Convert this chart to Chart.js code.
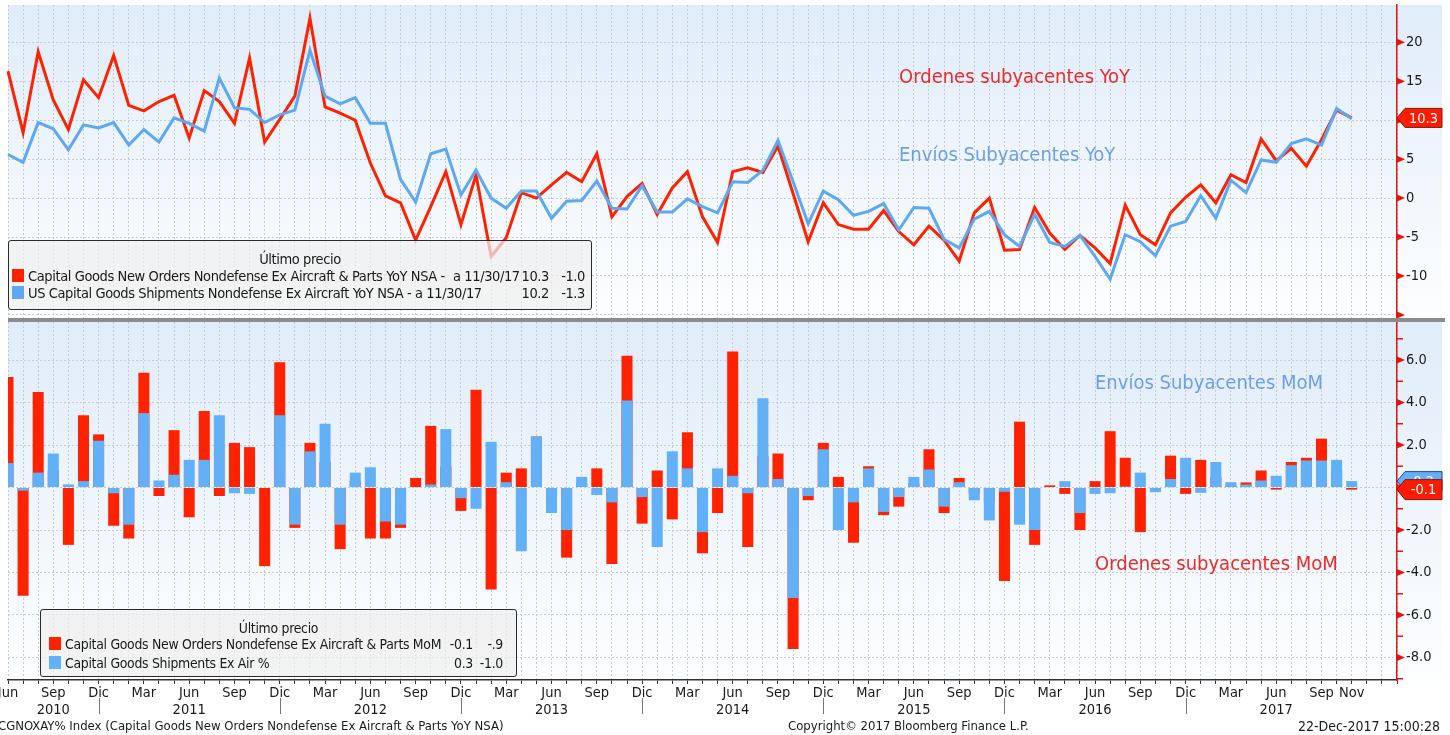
<!DOCTYPE html>
<html>
<head>
<meta charset="utf-8">
<script src="https://cdn.jsdelivr.net/npm/chart.js@4.4.1/dist/chart.umd.min.js"></script>
<style>
    body { margin: 0; background: #fff; width: 1450px; height: 735px; overflow: hidden; position: relative;
           font-family: "DejaVu Sans Condensed", "Liberation Sans Narrow", sans-serif; color: #1a1a1a; }
    #topChart { position: absolute; left: 0; top: 0; }
    #botChart { position: absolute; left: 0; top: 320px; }
    .sep { position: absolute; left: 8px; top: 318px; width: 1437px; height: 4px; background: #8c8c8c; }
    .note { position: absolute; font-size: 20px; white-space: nowrap; line-height: 24px; }
    .lg { position: absolute; box-sizing: border-box; background: rgba(238, 238, 238, 0.72);
          border: 1px solid #2a2a2a; border-radius: 3px; font-size: 14.5px; letter-spacing: -0.4px; }
    .lg div, .lg span { position: absolute; white-space: nowrap; line-height: 18px; }
    .lg .ttl { left: 0; right: 0; text-align: center; }
    .lg .sq { width: 12px; height: 13px; top: 2px; }
    .lg .num { width: 40px; text-align: right; }
    .foot { position: absolute; top: 718px; font-size: 13px; white-space: nowrap; line-height: 16px; }
</style>
</head>
<body>
<canvas id="topChart" width="1450" height="320"></canvas>
<canvas id="botChart" width="1450" height="400"></canvas>
<div class="sep"></div>

<div class="note" style="left:899px;top:64px;color:#ec2b2b">Ordenes subyacentes YoY</div>
<div class="note" style="left:899px;top:142px;color:#6d9fe4">Envíos Subyacentes YoY</div>
<div class="note" style="left:1095px;top:370px;color:#6d9fe4">Envíos Subyacentes MoM</div>
<div class="note" style="left:1095px;top:551px;color:#ec2b2b">Ordenes subyacentes MoM</div>

<div class="lg" style="left:8px;top:240px;width:584px;height:70px">
    <div class="ttl" style="top:9px">Último precio</div>
    <div style="top:26px;left:0;right:0;height:18px">
        <span class="sq" style="left:3px;background:#ff2200"></span>
        <span style="left:19px">Capital Goods New Orders Nondefense Ex Aircraft &amp; Parts YoY NSA -</span>
        <span style="left:444px">a 11/30/17</span>
        <span class="num" style="left:500px">10.3</span>
        <span class="num" style="left:536px">-1.0</span>
    </div>
    <div style="top:43px;left:0;right:0;height:18px">
        <span class="sq" style="left:3px;background:#5ea8f2"></span>
        <span style="left:19px">US Capital Goods Shipments Nondefense Ex Aircraft YoY NSA -</span>
        <span style="left:406px">a 11/30/17</span>
        <span class="num" style="left:500px">10.2</span>
        <span class="num" style="left:536px">-1.3</span>
    </div>
</div>

<div class="lg" style="left:40px;top:609px;width:477px;height:68px;font-size:13.9px;letter-spacing:-0.3px">
    <div class="ttl" style="top:9px">Último precio</div>
    <div style="top:25px;left:0;right:0;height:18px">
        <span class="sq" style="left:8px;background:#ff2200"></span>
        <span style="left:24px">Capital Goods New Orders Nondefense Ex Aircraft &amp; Parts MoM</span>
        <span class="num" style="left:392px">-0.1</span>
        <span class="num" style="left:422px">-.9</span>
    </div>
    <div style="top:44px;left:0;right:0;height:18px">
        <span class="sq" style="left:8px;background:#62b0f8"></span>
        <span style="left:24px">Capital Goods Shipments Ex Air %</span>
        <span class="num" style="left:392px">0.3</span>
        <span class="num" style="left:422px">-1.0</span>
    </div>
</div>

<div class="foot" style="left:-2px">CGNOXAY% Index (Capital Goods New Orders Nondefense Ex Aircraft &amp; Parts YoY NSA)</div>
<div class="foot" style="left:788px">Copyright© 2017 Bloomberg Finance L.P.</div>
<div class="foot" style="right:10px;font-size:14px">22-Dec-2017 15:00:28</div>

<script>
// Datos mensuales: Jun 2010 - Nov 2017 (más 3 meses vacíos al final del eje)
const monthNames = ['Ene', 'Feb', 'Mar', 'Abr', 'May', 'Jun', 'Jul', 'Ago', 'Sep', 'Oct', 'Nov', 'Dic'];
const categories = [];
for (let i = 0; i < 93; i++) {
    categories.push(monthNames[(5 + i) % 12] + ' ' + (2010 + Math.floor((5 + i) / 12)));
}

const quarterMonths = ['Mar', 'Jun', 'Sep', 'Dic'];
const lastMonthLabel = 'Nov 2017';
const yearTicks = [
    ['Sep 2010', '2010'], ['Jun 2011', '2011'], ['Jun 2012', '2012'], ['Jun 2013', '2013'],
    ['Jun 2014', '2014'], ['Jun 2015', '2015'], ['Jun 2016', '2016'], ['Jun 2017', '2017']
];

// YoY (panel superior)
const ordersYoY = [
    16.3, 8.4, 18.8, 12.6, 8.8, 15.2, 12.9, 18.3, 11.9, 11.2,
    12.4, 13.2, 7.7, 13.8, 12.4, 9.6, 18.0, 7.2, 10.1, 13.1,
    23.1, 11.7, 10.9, 10.0, 4.5, 0.3, -0.6, -5.4, -1.1, 3.4,
    -3.4, 3.0, -7.5, -5.1, 0.7, 0.0, 1.7, 3.3, 2.1, 5.7,
    -2.4, 0.2, 1.9, -2.1, 1.3, 3.4, -2.4, -5.7, 3.4, 3.9,
    3.3, 6.7, 0.6, -5.6, -0.6, -3.4, -4.0, -4.0, -1.6, -4.3,
    -6.0, -3.6, -5.4, -8.1, -1.9, 0.0, -6.7, -6.6, -1.2, -4.5,
    -6.6, -4.8, -6.4, -8.4, -0.9, -4.7, -6.0, -1.9, 0.1, 1.7,
    -0.6, 3.0, 2.0, 7.6, 4.8, 6.4, 4.1, 7.5, 11.3, 10.3
];
const shipmentsYoY = [
    5.6, 4.6, 9.7, 8.9, 6.2, 9.4, 9.0, 9.7, 6.8, 8.8,
    7.2, 10.3, 9.6, 8.6, 15.4, 11.6, 11.4, 9.7, 10.7, 11.3,
    19.0, 13.1, 12.1, 12.9, 9.6, 9.6, 2.4, -0.5, 5.7, 6.3,
    0.4, 3.6, 0.0, -1.3, 0.9, 0.9, -2.6, -0.4, -0.3, 2.2,
    -1.3, -1.4, 1.6, -1.8, -1.8, -0.1, -1.1, -1.9, 2.1, 2.0,
    3.6, 7.4, 2.1, -3.3, 0.9, -0.2, -2.2, -1.7, -0.7, -4.1,
    -1.2, -1.3, -5.3, -6.4, -2.7, -1.7, -4.7, -6.2, -2.1, -5.7,
    -6.2, -4.8, -7.5, -10.4, -4.7, -5.6, -7.4, -3.6, -3.0, 0.3,
    -2.6, 2.3, 0.7, 4.9, 4.6, 7.0, 7.6, 6.8, 11.5, 10.2
];

// MoM (panel inferior)
const ordersMoM = [
    5.2, -5.1, 4.5, 0.8, -2.7, 3.4, 2.5, -1.8, -2.4, 5.4,
    -0.4, 2.7, -1.4, 3.6, -0.4, 2.1, 1.9, -3.7, 5.9, -1.9,
    2.1, 1.2, -2.9, 0.3, -2.4, -2.4, -1.9, 0.45, 2.9, 1.0,
    -1.1, 4.6, -4.8, 0.7, 0.9, 2.4, -0.5, -3.3, 0.2, 0.9,
    -3.6, 6.2, -1.7, 0.8, -1.5, 2.6, -3.1, -1.2, 6.4, -2.8,
    1.5, 1.6, -7.6, -0.6, 2.1, 0.5, -2.6, 1.0, -1.3, -0.9,
    0.2, 1.8, -1.2, 0.45, -0.3, -0.7, -4.4, 3.1, -2.7, 0.1,
    -0.3, -2.0, 0.3, 2.65, 1.4, -2.1, -0.1, 1.5, -0.3, 1.3,
    0.5, 0.1, 0.24, 0.8, -0.1, 1.2, 1.4, 2.3, 0.8, -0.1
];
const shipmentsMoM = [
    1.15, -0.15, 0.7, 1.6, 0.15, 0.3, 2.2, -0.27, -1.75, 3.5,
    0.33, 0.6, 1.3, 1.3, 3.4, -0.27, -0.3, 0.0, 3.4, -1.75,
    1.7, 3.0, -1.75, 0.7, 0.95, -1.6, -1.75, 0.0, 0.14, 2.75,
    -0.5, -1.0, 2.15, 0.25, -3.0, 2.4, -1.2, -2.0, 0.5, -0.35,
    -0.7, 4.1, -0.45, -2.8, 1.7, 0.9, -2.1, 0.9, 0.55, -0.27,
    4.2, 0.4, -5.2, -0.4, 1.8, -2.0, -0.7, 0.9, -1.15, -0.45,
    0.5, 0.85, -0.9, 0.25, -0.6, -1.55, -0.2, -1.75, -2.0, 0.0,
    0.3, -1.2, -0.3, -0.27, 0.05, 0.7, -0.22, 0.4, 1.4, -0.25,
    1.2, 0.25, 0.14, 0.33, 0.55, 1.05, 1.27, 1.27, 1.3, 0.3
];

const RED = '#ff2200';
const BLUE_LINE = '#5ea8f2';
const BLUE_BAR = '#62b0f8';
const GRID = '#c6ccd3';
const AXIS_RED = '#e8140a';

Chart.defaults.font.family = '"DejaVu Sans Condensed", "Liberation Sans Narrow", sans-serif';
Chart.defaults.font.size = 14.5;
Chart.defaults.color = '#1a1a1a';

function tickLabel(index) {
    const cat = categories[index];
    const m = cat.split(' ')[0];
    let top = '';
    if (index < ordersYoY.length && (quarterMonths.includes(m) || cat === lastMonthLabel)) top = m;
    const yr = yearTicks.find(function(p) { return p[0] === cat; });
    return yr ? [top, yr[1]] : top;
}

function drawFlag(ctx, x, y, w, h, fill, stroke, text) {
    ctx.save();
    ctx.beginPath();
    ctx.moveTo(x, y);
    ctx.lineTo(x + 8, y - h / 2);
    ctx.lineTo(x + w, y - h / 2);
    ctx.lineTo(x + w, y + h / 2);
    ctx.lineTo(x + 8, y + h / 2);
    ctx.closePath();
    ctx.fillStyle = fill;
    ctx.fill();
    ctx.lineWidth = 1;
    ctx.strokeStyle = stroke;
    ctx.stroke();
    ctx.fillStyle = '#fff';
    ctx.font = '14.5px "DejaVu Sans Condensed", sans-serif';
    ctx.textAlign = 'center';
    ctx.textBaseline = 'middle';
    ctx.fillText(text, x + 4 + w / 2, y + 1);
    ctx.restore();
}

// Fondo degradado, marcas del eje derecho y banderas de último valor
const panelPlugin = {
    id: 'panel',
    beforeDraw: function(chart) {
        const a = chart.chartArea;
        const ctx = chart.ctx;
        const g = ctx.createLinearGradient(0, a.top, 0, a.bottom);
        g.addColorStop(0, '#e0ecf9');
        g.addColorStop(1, '#fdfeff');
        ctx.save();
        ctx.fillStyle = g;
        ctx.fillRect(a.left, a.top, a.right - a.left + 45, a.bottom - a.top);
        ctx.restore();
    },
    afterDraw: function(chart, args, opts) {
        const ctx = chart.ctx;
        const y = chart.scales.y;
        const x0 = y.left;
        ctx.save();
        ctx.fillStyle = AXIS_RED;
        ctx.strokeStyle = AXIS_RED;
        ctx.lineWidth = 1.5;
        y.ticks.forEach(function(t) {
            const py = y.getPixelForValue(t.value);
            if (t.value % opts.major === 0) {
                ctx.beginPath();
                ctx.moveTo(x0, py - 3.5);
                ctx.lineTo(x0 + 8, py);
                ctx.lineTo(x0, py + 3.5);
                ctx.closePath();
                ctx.fill();
            } else {
                ctx.beginPath();
                ctx.moveTo(x0, py);
                ctx.lineTo(x0 + 6, py);
                ctx.stroke();
            }
        });
        ctx.restore();
        opts.flags.forEach(function(f) {
            drawFlag(ctx, x0, y.getPixelForValue(f.value), 45, f.h, f.fill, f.stroke, f.text);
        });
        if (opts.separators) {
            const xs = chart.scales.x;
            ctx.save();
            ctx.strokeStyle = '#777';
            ctx.lineWidth = 1;
            categories.forEach(function(c, i) {
                if (c.indexOf('Dic') === 0 && i < ordersYoY.length) {
                    const px = Math.round(xs.getPixelForValue(i)) + 0.5;
                    ctx.beginPath();
                    ctx.moveTo(px, xs.top + 18);
                    ctx.lineTo(px, xs.top + 34);
                    ctx.stroke();
                }
            });
            ctx.restore();
        }
    }
};

function yAxis(min, max, step, major, labelMin, fmt) {
    return {
        position: 'right',
        min: min,
        max: max,
        afterFit: function(s) { s.width = 53; s.paddingTop = 0; s.paddingBottom = 0; },
        ticks: {
            stepSize: step,
            includeBounds: false,
            padding: 9,
            color: '#1a1a1a',
            callback: function(v) { return v % major === 0 && v >= labelMin ? fmt(v) : ''; }
        },
        grid: {
            drawTicks: false,
            lineWidth: 1,
            color: function(c) { return c.tick && c.tick.value % major === 0 ? GRID : 'rgba(0,0,0,0)'; }
        },
        border: { display: true, color: AXIS_RED, width: 1.5, dash: [2, 2] }
    };
}

new Chart(document.getElementById('topChart'), {
    type: 'line',
    data: {
        labels: categories,
        datasets: [
            { label: 'Envíos', data: shipmentsYoY, borderColor: BLUE_LINE, borderWidth: 3, pointRadius: 0, order: 0 },
            { label: 'Ordenes', data: ordersYoY, borderColor: RED, borderWidth: 3, pointRadius: 0, order: 1 }
        ]
    },
    options: {
        responsive: false,
        animation: false,
        layout: { padding: { left: 8, top: 5, right: 0, bottom: 2 } },
        plugins: {
            legend: { display: false },
            tooltip: { enabled: false },
            panel: { major: 5, flags: [{ value: 10.3, text: '10.3', fill: '#ff1a00', stroke: '#7a1a10', h: 19 }] }
        },
        scales: {
            x: {
                afterFit: function(s) { s.height = 0; s.paddingLeft = 0; s.paddingRight = 0; },
                ticks: { display: false },
                grid: { color: GRID, drawTicks: false },
                border: { display: false, dash: [2, 2] }
            },
            y: yAxis(-15.4, 24.8, 2.5, 5, -12, function(v) { return String(v); })
        }
    },
    plugins: [panelPlugin]
});

new Chart(document.getElementById('botChart'), {
    type: 'bar',
    data: {
        labels: categories,
        datasets: [
            { label: 'Envíos MoM', data: shipmentsMoM, backgroundColor: BLUE_BAR, grouped: false, order: 0,
              barPercentage: 0.73, categoryPercentage: 1 },
            { label: 'Ordenes MoM', data: ordersMoM, backgroundColor: RED, grouped: false, order: 1,
              barPercentage: 0.73, categoryPercentage: 1 }
        ]
    },
    options: {
        responsive: false,
        animation: false,
        layout: { padding: { left: 8, top: 2, right: 0, bottom: 0 } },
        plugins: {
            legend: { display: false },
            tooltip: { enabled: false },
            panel: {
                major: 2,
                separators: true,
                flags: [
                    { value: 0.3, text: '0.3', fill: BLUE_BAR, stroke: '#1d3f8a', h: 19 },
                    { value: -0.1, text: '-0.1', fill: '#ff1a00', stroke: '#7a1a10', h: 20 }
                ]
            }
        },
        scales: {
            x: {
                offset: false,
                afterFit: function(s) { s.height = 40; s.paddingLeft = 0; s.paddingRight = 0; },
                ticks: {
                    autoSkip: false,
                    maxRotation: 0,
                    minRotation: 0,
                    padding: 0,
                    color: '#1a1a1a',
                    font: { size: 14.5, lineHeight: 1.22 },
                    callback: function(v, i) { return tickLabel(i); }
                },
                grid: { color: GRID, offset: false, tickLength: 4, tickColor: '#333', tickBorderDash: [] },
                border: { display: true, color: '#333', width: 1.5, dash: [2, 2] }
            },
            y: yAxis(-9.06, 7.79, 1, 2, -9, function(v) { return v.toFixed(1); })
        }
    },
    plugins: [panelPlugin]
});
</script>
</body>
</html>
